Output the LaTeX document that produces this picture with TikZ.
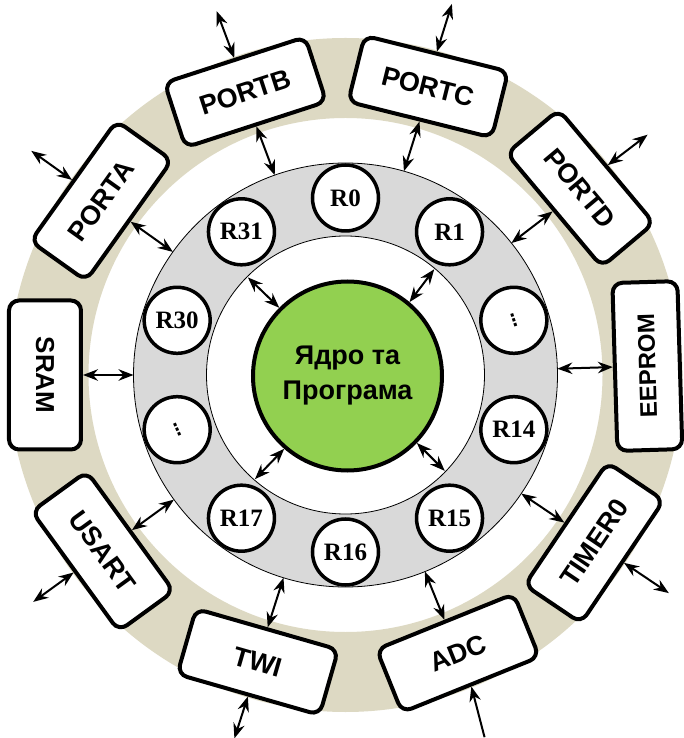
\documentclass[tikz,border=0pt]{standalone}
\usepackage{fontspec}
\setmainfont{Liberation Serif}
\newfontfamily\boxfont{Liberation Sans}
\newfontfamily\symfont{DejaVu Sans}
\usetikzlibrary{arrows.meta}
\definecolor{beige}{RGB}{221,217,195}
\definecolor{ringgrey}{RGB}{217,217,217}
\definecolor{coregreen}{RGB}{146,208,80}
\begin{document}
\begin{tikzpicture}[x=1pt,y=1pt,
  unitbox/.style={draw, line width=4pt, fill=white, rounded corners=10pt,
    minimum width=148pt, minimum height=68pt, inner sep=0pt,
    font=\boxfont\bfseries\fontsize{27}{32}\selectfont},
  reg/.style={circle, draw, line width=3.5pt, fill=white, minimum size=66pt,
    inner sep=0pt, font=\bfseries\fontsize{25}{30}\selectfont},
  tipA/.tip={Stealth[length=15pt,width=11.5pt,inset=5pt]},
  link/.style={line width=2pt, tipA-tipA},
  inlink/.style={line width=2pt, -tipA},
  ]
\useasboundingbox (-345.5,-363) rectangle (337.5,375);

% rings
\fill[beige, even odd rule] (0,0) circle (337pt) (0,0) circle (257pt);
\fill[ringgrey, even odd rule] (0,0) circle (212pt) (0,0) circle (139pt);
\draw[line width=0.8pt] (0,0) circle (212pt);
\draw[line width=0.8pt] (0,0) circle (139pt);

% core
\node[circle, draw, line width=4pt, fill=coregreen, minimum size=189pt,
  inner sep=0pt, align=center,
  font=\boxfont\bfseries\fontsize{27}{35}\selectfont] (core) at (2,-1)
  {Ядро та\\Програма};

% registers
\node[reg] (r0)  at (90:177pt)   {R0};
\node[reg] (r1)  at (54:177pt)   {R1};
\node[reg] (rdr) at (18:177pt)   {\symfont\fontsize{17}{20}\selectfont\rotatebox{18}{⋮}};
\node[reg] (r14) at (-18:177pt)  {R14};
\node[reg] (r15) at (-54:177pt)  {R15};
\node[reg] (r16) at (-90:177pt)  {R16};
\node[reg] (r17) at (-126:177pt) {R17};
\node[reg] (rdl) at (-162:177pt) {\symfont\fontsize{17}{20}\selectfont\rotatebox{24}{⋮}};
\node[reg] (r30) at (162:177pt)  {R30};
\node[reg] (r31) at (126:177pt)  {R31};

% peripheral boxes
\node[unitbox, rotate=54.5] (porta) at (144.5:300pt) {PORTA};
\node[unitbox, rotate=18]   (portb) at (109.5:300pt) {PORTB};
\node[unitbox, rotate=-14]  (portc) at (74:300pt)    {PORTC};
\node[unitbox, rotate=-50]  (portd) at (38.5:300pt)  {PORTD};
\node[unitbox, rotate=91.7, minimum width=168pt, minimum height=65pt,
  font=\boxfont\bfseries\fontsize{24}{28}\selectfont] (eeprom) at (1.7:302pt) {EEPROM};
\node[unitbox, rotate=56]   (timer) at (-34:300pt)   {TIMER0};
\node[unitbox, rotate=22]   (adc)   at (-68:300pt)   {ADC};
\node[unitbox, rotate=-16]  (twi)   at (-107:300pt)  {TWI};
\node[unitbox, rotate=-54]  (usart) at (-144:300pt)  {USART};
\node[unitbox, rotate=270, minimum width=149pt, minimum height=72pt,
  font=\boxfont\bfseries\fontsize{26}{30}\selectfont] (sram) at (180:300.5pt) {SRAM};

% ring coordinates (grey ring outer edge)
\coordinate (gA) at (144.5:212pt);
\coordinate (gB) at (109.5:212pt);
\coordinate (gC) at (74:212pt);
\coordinate (gD) at (38.5:212pt);
\coordinate (gE) at (1.7:212pt);
\coordinate (gT) at (-34:212pt);
\coordinate (gAdc) at (-68:212pt);
\coordinate (gW) at (-107:212pt);
\coordinate (gU) at (-144:212pt);
\coordinate (gS) at (180:212pt);

% outer free ends
\coordinate (oA) at (144.5:386pt);
\coordinate (oB) at (109.5:386pt);
\coordinate (oC) at (74:386pt);
\coordinate (oD) at (38.5:386pt);
\coordinate (oT) at (-34:390pt);
\coordinate (oAdc) at (-69:388pt);
\coordinate (oW) at (-107:380pt);
\coordinate (oU) at (-144:386pt);

% grey ring inner edge coordinates
\coordinate (i1) at (135:138pt);
\coordinate (i2) at (50:138pt);
\coordinate (i3) at (-44:138pt);
\coordinate (i4) at (-131:138pt);

% links box <-> ring
\draw[link] (gA) -- (porta.south);
\draw[link] (gB) -- (portb.south);
\draw[link] (gC) -- (portc.south);
\draw[link] (gD) -- (portd.south);
\draw[link] (gE) -- (eeprom.north);
\draw[link] (gT) -- (timer.north);
\draw[link] (gAdc) -- (adc.north);
\draw[link] (gW) -- (twi.north);
\draw[link] (gU) -- (usart.north);
\draw[link] (gS) -- (sram.north);

% external links
\draw[link] (porta.north) -- (oA);
\draw[link] (portb.north) -- (oB);
\draw[link] (portc.north) -- (oC);
\draw[link] (portd.north) -- (oD);
\draw[link] (timer.south) -- (oT);
\draw[inlink] (oAdc) -- (adc.south);
\draw[link] (twi.south) -- (oW);
\draw[link] (usart.south) -- (oU);

% core <-> register ring
\draw[link] (core.135) -- (i1);
\draw[link] (core.50) -- (i2);
\draw[link] (core.-44) -- (i3);
\draw[link] (core.-131) -- (i4);
\end{tikzpicture}
\end{document}
